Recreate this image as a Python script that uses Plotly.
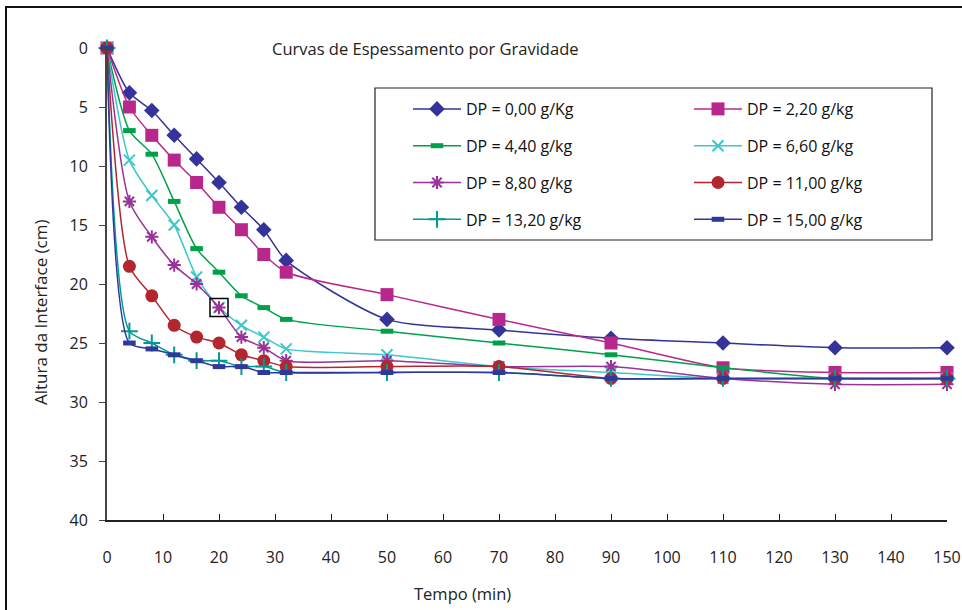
import plotly.graph_objects as go

tempo = [0, 4, 8, 12, 16, 20, 24, 28, 32, 50, 70, 90, 110, 130, 150]

series_names = ["DP = 0,00 g/Kg", "DP = 2,20 g/kg", "DP = 4,40 g/kg", "DP = 6,60 g/kg",
                "DP = 8,80 g/kg", "DP = 11,00 g/kg", "DP = 13,20 g/kg", "DP = 15,00 g/kg"]

dp_000 = [0, 3.8, 5.3, 7.4, 9.4, 11.4, 13.5, 15.4, 18.0, 23.0, 23.9, 24.6, 25.0, 25.4, 25.4]
dp_220 = [0, 5.0, 7.4, 9.5, 11.4, 13.5, 15.4, 17.5, 19.0, 20.9, 23.0, 25.0, 27.1, 27.5, 27.5]
dp_440 = [0, 7.0, 9.0, 13.0, 17.0, 19.0, 21.0, 22.0, 23.0, 24.0, 25.0, 26.0, 27.1, 28.0, 28.0]
dp_660 = [0, 9.5, 12.5, 15.0, 19.4, 22.0, 23.5, 24.5, 25.5, 26.0, 27.0, 27.5, 28.0, 28.0, 28.0]
dp_880 = [0, 13.0, 16.0, 18.4, 20.0, 22.0, 24.5, 25.4, 26.5, 26.5, 27.0, 27.0, 28.0, 28.5, 28.5]
dp_1100 = [0, 18.5, 21.0, 23.5, 24.5, 25.0, 26.0, 26.5, 27.0, 27.0, 27.0, 28.0, 28.0, 28.0, 28.0]
dp_1320 = [0, 24.0, 25.0, 26.0, 26.5, 26.5, 27.0, 27.0, 27.5, 27.5, 27.5, 28.0, 28.0, 28.0, 28.0]
dp_1500 = [0, 25.0, 25.5, 26.0, 26.5, 27.0, 27.0, 27.5, 27.5, 27.5, 27.5, 28.0, 28.0, 28.0, 28.0]

destaque_x = [20]
destaque_y = [22.0]

x_ticks = list(range(0, 151, 10))
y_ticks = list(range(0, 41, 5))

values = [dp_000, dp_220, dp_440, dp_660, dp_880, dp_1100, dp_1320, dp_1500]
colors = ["#333399", "#B8288C", "#00A04A", "#3CC8C8", "#993399", "#B2262E", "#009A96", "#2E3A9A"]
symbols = ["diamond", "square", "line-ew", "x-thin", "asterisk", "circle", "cross-thin", "line-ew"]
sizes = [12, 13, 9, 11, 11, 13, 12, 9]
mlw = [0, 0, 5, 2, 2, 0, 2, 5]

fig = go.Figure()
for i, (name, vals) in enumerate(zip(series_names, values)):
    c = colors[i]
    fig.add_trace(go.Scatter(
        x=tempo, y=vals, name=name, mode="lines+markers",
        line=dict(color=c, width=1.5, shape="spline", smoothing=0.7),
        marker=dict(symbol=symbols[i], size=sizes[i], color=c,
                    line=dict(color=c, width=mlw[i])),
        legend="legend" if i % 2 == 0 else "legend2",
        legendgroup="g%d" % i,
        cliponaxis=False,
    ))

fig.add_trace(go.Scatter(
    x=destaque_x, y=destaque_y, mode="markers", showlegend=False,
    marker=dict(symbol="square-open", size=18, color="black", line=dict(color="black", width=1.5)),
    cliponaxis=False, hoverinfo="skip",
))

font_family = "Open Sans, Noto Sans, DejaVu Sans, sans-serif"

legend_common = dict(
    orientation="v", xanchor="left", yanchor="top",
    bgcolor="rgba(0,0,0,0)", borderwidth=0,
    font=dict(family=font_family, size=16, color="#111"),
    itemwidth=48, tracegroupgap=13, itemclick=False,
)

fig.update_layout(
    width=962, height=610,
    margin=dict(l=107, r=15, t=48, b=90, autoexpand=False),
    paper_bgcolor="white", plot_bgcolor="white",
    font=dict(family=font_family, size=16, color="#222"),
    showlegend=True,
    legend=dict(x=(408 - 107) / 840, y=(520 - 92) / 472, **legend_common),
    legend2=dict(x=(689 - 107) / 840, y=(520 - 92) / 472, **legend_common),
    xaxis=dict(range=[0, 150], tickvals=x_ticks, ticks="inside", ticklen=6,
               tickcolor="#222", showline=True, linecolor="#222", linewidth=1.5,
               showgrid=False, zeroline=False, ticklabelstandoff=22, automargin=False,
               tickfont=dict(size=16, color="#222")),
    yaxis=dict(range=[40, 0], tickvals=y_ticks, ticks="outside", ticklen=6,
               tickcolor="#444", showline=True, linecolor="#444", linewidth=2,
               showgrid=False, zeroline=False, ticklabelstandoff=8, automargin=False,
               tickfont=dict(size=16, color="#222")),
    shapes=[
        dict(type="rect", xref="paper", yref="paper",
             x0=(6 - 107) / 840, x1=(990 - 107) / 840,
             y0=(520 - 640) / 472, y1=(520 - 7) / 472,
             line=dict(color="#111", width=2), layer="below"),
        dict(type="rect", xref="paper", yref="paper",
             x0=(375 - 107) / 840, x1=(932 - 107) / 840,
             y0=(520 - 240) / 472, y1=(520 - 88) / 472,
             line=dict(color="#222", width=1.2), fillcolor="rgba(0,0,0,0)", layer="below"),
    ],
    annotations=[
        dict(text="Curvas de Espessamento por Gravidade", xref="paper", yref="paper",
             x=(425 - 107) / 840, y=(520 - 48) / 472, showarrow=False,
             xanchor="center", yanchor="middle", font=dict(size=16.5, color="#222")),
        dict(text="Tempo (min)", xref="paper", yref="paper",
             x=(462 - 107) / 840, y=(520 - 593) / 472, showarrow=False,
             xanchor="center", yanchor="middle", font=dict(size=16.5, color="#222")),
        dict(text="Altura da Interface (cm)", xref="paper", yref="paper",
             x=(40 - 107) / 840, y=(520 - 312) / 472, showarrow=False, textangle=-90,
             xanchor="center", yanchor="middle", font=dict(size=17, color="#222")),
    ],
)

fig.write_html("out.html", config={"displayModeBar": False},
               post_script="document.body.style.margin='0';document.body.style.overflow='hidden';")
